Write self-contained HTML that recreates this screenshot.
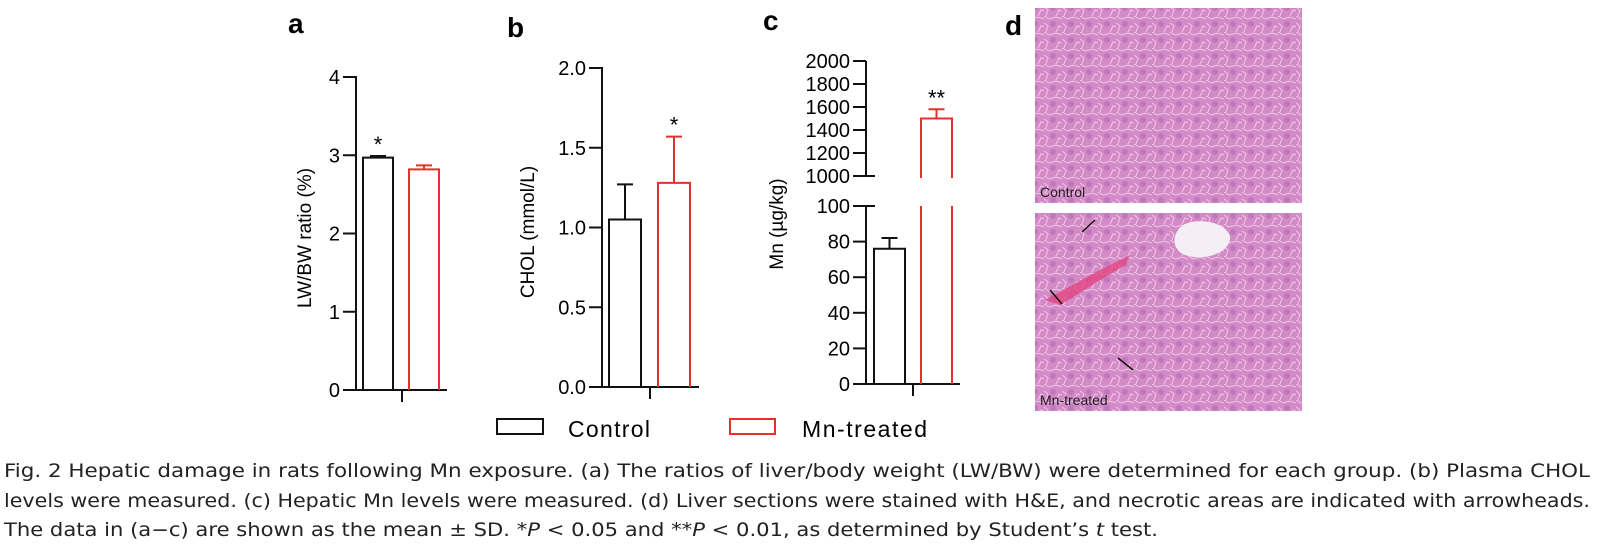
<!DOCTYPE html>
<html><head><meta charset="utf-8"><style>
html,body{margin:0;padding:0;background:#fff}
svg{display:block}
text{font-family:"Liberation Sans",sans-serif}
.cap{font-family:"DejaVu Sans","Liberation Sans",sans-serif;font-size:19px;fill:#222}
</style></head><body>
<svg id="fig" width="1601" height="545" viewBox="0 0 1601 545">
<defs>
<pattern id="cells" width="18" height="16" patternUnits="userSpaceOnUse">
<rect width="18" height="16" fill="#d48ac6"/>
<circle cx="9" cy="8" r="3" fill="#bf78bb"/>
<path d="M0 0 L5 3 L12 1 L18 3 M2 16 L4 10 L0 7 M12 16 L15 10 L18 11" stroke="#eec8e8" stroke-width="1" fill="none"/>
</pattern>
</defs>
<g id="charts"></g>
<g>
<rect x="1035" y="8" width="267" height="195" fill="url(#cells)"/>
<text x="1040" y="197" font-size="14" fill="#222">Control</text>
<rect x="1035" y="213" width="267" height="198" fill="url(#cells)"/>
<path d="M1185 224 C1200 218 1225 222 1230 236 C1232 252 1205 262 1185 255 C1170 250 1172 230 1185 224Z" fill="#f6eef5"/>
<path d="M1045 300 L1100 270 L1130 255 L1125 265 L1060 305Z" fill="#e2457f" opacity="0.8"/>
<g stroke="#111" stroke-width="1.5">
<line x1="1095" y1="220" x2="1082" y2="232"/><line x1="1050" y1="290" x2="1062" y2="304"/><line x1="1133" y1="370" x2="1118" y2="358"/>
</g>
<text x="1040" y="405" font-size="14" fill="#222">Mn-treated</text>
</g>
<text x="1005" y="35" font-size="28" font-weight="bold">d</text>
<g>
<rect x="497" y="419" width="46" height="15" fill="none" stroke="#111" stroke-width="2"/>
<text x="568" y="437" font-size="23" textLength="82">Control</text>
<rect x="730" y="419" width="45" height="15" fill="none" stroke="#e8302a" stroke-width="2"/>
<text x="802" y="437" font-size="23" textLength="125">Mn-treated</text>
</g>
<g>
<text class="cap" x="4" y="477" textLength="1586" lengthAdjust="spacingAndGlyphs">Fig. 2   Hepatic damage in rats following Mn exposure. (a) The ratios of liver/body weight (LW/BW) were determined for each group. (b) Plasma CHOL</text>
<text class="cap" x="4" y="507" textLength="1586" lengthAdjust="spacingAndGlyphs">levels were measured. (c) Hepatic Mn levels were measured. (d) Liver sections were stained with H&amp;E, and necrotic areas are indicated with arrowheads.</text>
<text class="cap" x="4" y="536" textLength="1154" lengthAdjust="spacingAndGlyphs">The data in (a−c) are shown as the mean ± SD. *<tspan font-style="italic">P</tspan> &lt; 0.05 and **<tspan font-style="italic">P</tspan> &lt; 0.01, as determined by Student’s <tspan font-style="italic">t</tspan> test.</text>
</g>
</svg>
<script>
// Panel a
const aTicks=[0,1,2,3,4];
const aMeans=[2.97,2.82];
const aErrs=[2.99,2.87];
// Panel b
const bTicks=[0.0,0.5,1.0,1.5,2.0];
const bTickLabels=["0.0","0.5","1.0","1.5","2.0"];
const bMeans=[1.05,1.28];
const bErrs=[1.27,1.57];
// Panel c
const cLowTicks=[0,20,40,60,80,100];
const cHighTicks=[1000,1200,1400,1600,1800,2000];
const cMeans=[76,1500];
const cErrs=[82,1580];
const groups=["control","mn-treated"];
const colors=["#111","#e8302a"];
const stars=[["*",""],["","*"],["","**"]];

const NS="http://www.w3.org/2000/svg";
const root=document.getElementById('charts');
function mk(tag,at,parent){const e=document.createElementNS(NS,tag);for(const k in at)e.setAttribute(k,at[k]);(parent||root).appendChild(e);return e;}
function line(p,x1,y1,x2,y2,c,w){return mk('line',{x1,y1,x2,y2,stroke:c||'#111','stroke-width':w||2},p);}

function panel(cfg){
  const g=mk('g',{});
  
  
  const L=mk('text',{x:cfg.lx,y:cfg.ly,'font-size':28,'font-weight':'bold'},g);L.textContent=cfg.id;
  
  
  const ax=line(g,cfg.x0,cfg.yTop,cfg.x0,cfg.y0+1);
  
  
  const xa=line(g,cfg.x0-1,cfg.y0,cfg.x1,cfg.y0);
  
  
  line(g,cfg.tickX,cfg.y0,cfg.tickX,cfg.y0+12);
  cfg.ticks.forEach((t,i)=>{
    const y=cfg.ys(t);
    line(g,cfg.x0-13,y,cfg.x0,y);
    const tx=mk('text',{x:cfg.x0-16,y:y+7,'font-size':20,'text-anchor':'end'},g);
    tx.textContent=cfg.labels?cfg.labels[i]:t;
    
    
  });
  const tt=mk('text',{transform:`translate(${cfg.tx},${cfg.ty}) rotate(-90)`,'font-size':19,'text-anchor':'middle'},g);
  tt.textContent=cfg.title;
  
  
  cfg.means.forEach((m,i)=>{
    const bx=cfg.bx[i],bw=cfg.bw,yt=cfg.ys(m),ye=cfg.ys(cfg.errs[i]);
    const b=mk('path',{d:cfg.barPath?cfg.barPath(bx,bw,yt,i):`M${bx} ${cfg.y0} V${yt} H${bx+bw} V${cfg.y0}`,fill:'none',stroke:colors[i],'stroke-width':2},g);
    
    
    const cx=bx+bw/2;
    const e=mk('path',{d:`M${cx} ${yt} V${ye} M${cx-8} ${ye} H${cx+8}`,stroke:colors[i],'stroke-width':2,fill:'none'},g);
    
    
    if(stars[cfg.si][i]){
      const s=mk('text',{x:cx,y:ye-4,'font-size':22,'text-anchor':'middle'},g);s.textContent=stars[cfg.si][i];
      
      
    }
  });
  return g;
}
const aS=v=>390-(390-77)*v/4;
panel({id:'a',lx:288,ly:33,x0:356,x1:447,y0:390,yTop:76,tickX:402,ticks:aTicks,ys:aS,tx:311,ty:238,title:'LW/BW ratio (%)',means:aMeans,errs:aErrs,bx:[363,409],bw:30,si:0});
const bS=v=>387-(387-68)*v/2;
panel({id:'b',lx:507,ly:37,x0:602,x1:699,y0:387,yTop:67,tickX:650,ticks:bTicks,labels:bTickLabels,ys:bS,tx:534,ty:232,title:'CHOL (mmol/L)',means:bMeans,errs:bErrs,bx:[609,658],bw:32,si:1});
// panel c broken axis
const cS=v=> v<=100 ? 384-(384-206)*v/100 : 176-(176-61)*(v-1000)/1000;
const gc=panel({id:'c',lx:763,ly:30,x0:866,x1:960,y0:384,yTop:206,tickX:913,ticks:cLowTicks,ys:cS,tx:783,ty:224,title:'Mn (µg/kg)',means:cMeans,errs:cErrs,bx:[874,921],bw:31,si:2,
  barPath:(bx,bw,yt,i)=> cMeans[i]>100 ? `M${bx} ${384} V206 M${bx} 178 V${yt} H${bx+bw} V178 M${bx+bw} 206 V384` : `M${bx} 384 V${yt} H${bx+bw} V384`});
line(gc,866,61,866,177);
line(gc,866,206,875,206);line(gc,866,176,875,176);
cHighTicks.forEach(t=>{const y=cS(t);line(gc,853,y,866,y);
  const tx=mk('text',{x:850,y:y+7,'font-size':20,'text-anchor':'end'},gc);tx.textContent=t;
  
  });
</script>
</body></html>
